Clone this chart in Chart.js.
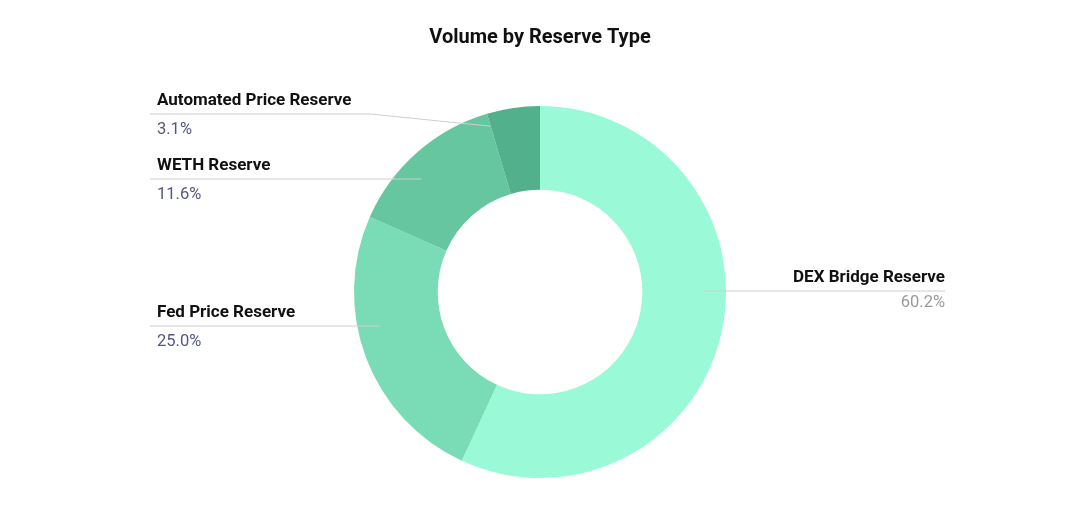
<!DOCTYPE html>
<html>
<head>
<meta charset="utf-8">
<script src="https://cdn.jsdelivr.net/npm/chart.js@4.4.1/dist/chart.umd.min.js"></script>
<style>
  html, body { margin: 0; padding: 0; background: #fff; }
  #wrap { width: 1080px; height: 510px; }
</style>
</head>
<body>
<div id="wrap"><canvas id="grafico"></canvas></div>
<script>
const categorias = ['DEX Bridge Reserve', 'Fed Price Reserve', 'WETH Reserve', 'Automated Price Reserve'];
// slice sizes as drawn in the picture
const valores = [56.9, 24.7, 13.8, 4.6];
// percentages printed next to each label
const etiquetas = ['60.2%', '25.0%', '11.6%', '3.1%'];
const colores = ['#9afad8', '#7adcb6', '#66c6a0', '#52b08c'];

// label placement: side and y of the leader line
const posiciones = [
    { lado: 'right', y: 291 },
    { lado: 'left', y: 326 },
    { lado: 'left', y: 179 },
    { lado: 'left', y: 114 }
];

const etiquetasPlugin = {
    id: 'etiquetas',
    afterDraw(chart) {
        const ctx = chart.ctx;
        const arcos = chart.getDatasetMeta(0).data;
        ctx.save();

        ctx.fillStyle = '#111';
        ctx.font = 'bold 20px Roboto';
        ctx.textAlign = 'center';
        ctx.textBaseline = 'middle';
        ctx.fillText('Volume by Reserve Type', 540, 38);

        arcos.forEach((arc, i) => {
            const p = posiciones[i];
            const cx = arc.x, cy = arc.y;
            const rEnd = arc.outerRadius * 0.88;
            const dy = p.y - cy;
            let puntos;
            if (Math.abs(dy) < rEnd) {
                const dx = Math.sqrt(rEnd * rEnd - dy * dy);
                const ex = p.lado === 'right' ? cx + dx : cx - dx;
                puntos = p.lado === 'right' ? [[945, p.y], [ex, p.y]] : [[150, p.y], [ex, p.y]];
            } else {
                // slice too high for a straight line: bend to its edge
                const ang = arc.startAngle;
                const r = arc.outerRadius * 0.93;
                const ex = cx + Math.cos(ang) * r;
                const ey = cy + Math.sin(ang) * r;
                puntos = [[150, p.y], [cx - 170, p.y], [ex, ey]];
            }
            ctx.strokeStyle = '#cfcfcf';
            ctx.lineWidth = 1;
            ctx.beginPath();
            puntos.forEach((pt, k) => k === 0 ? ctx.moveTo(pt[0], pt[1]) : ctx.lineTo(pt[0], pt[1]));
            ctx.stroke();

            const tx = p.lado === 'right' ? 945 : 157;
            ctx.textAlign = p.lado === 'right' ? 'right' : 'left';
            ctx.font = 'bold 17px Roboto';
            ctx.fillStyle = '#111';
            ctx.fillText(categorias[i], tx, p.y - 13);
            ctx.font = '16.5px Roboto';
            ctx.fillStyle = p.lado === 'right' ? '#9a9a9a' : '#55558a';
            ctx.fillText(etiquetas[i], tx, p.y + (p.lado === 'right' ? 12 : 16));
        });
        ctx.restore();
    }
};

const ctx = document.getElementById('grafico').getContext('2d');
window.chart = new Chart(ctx, {
    type: 'doughnut',
    data: {
        labels: categorias,
        datasets: [{
            data: valores,
            backgroundColor: colores,
            borderWidth: 0
        }]
    },
    options: {
        responsive: true,
        maintainAspectRatio: false,
        animation: false,
        cutout: '55%',
        layout: { padding: { top: 106, bottom: 32, left: 0, right: 0 } },
        plugins: {
            legend: { display: false },
            tooltip: { enabled: false },
            title: { display: false }
        }
    },
    plugins: [etiquetasPlugin]
});
</script>
</body>
</html>
